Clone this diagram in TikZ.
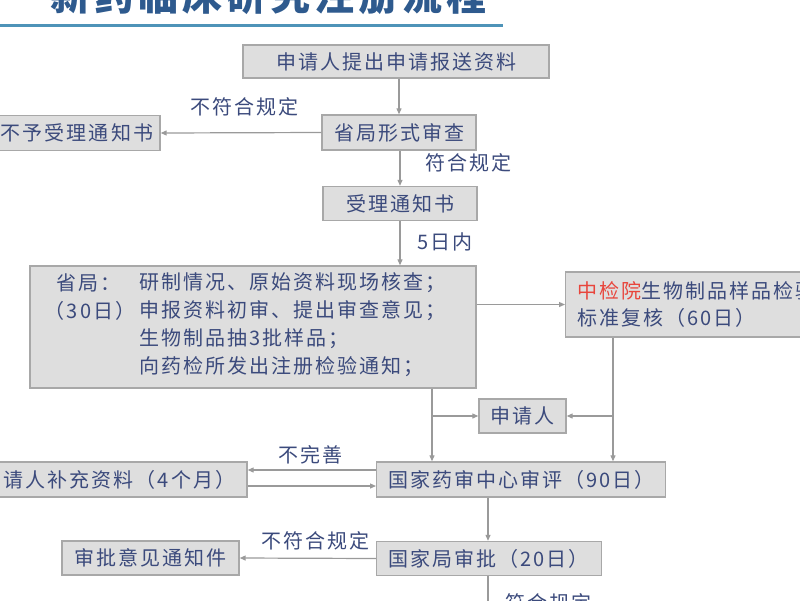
\documentclass[tikz,border=0pt]{standalone}
\usepackage{fontspec}
\setmainfont{Noto Sans CJK SC}[LetterSpace=10]
\usetikzlibrary{arrows.meta}
\definecolor{boxfill}{HTML}{DEDEDE}
\definecolor{boxline}{HTML}{A8A8A8}
\definecolor{txt}{HTML}{3B4A7C}
\definecolor{arr}{HTML}{9A9A9A}
\definecolor{rulecol}{HTML}{4E93B8}
\definecolor{redtxt}{HTML}{E8453C}
\definecolor{titleblue}{HTML}{2E5A8E}
\tikzset{
  box/.style={draw=boxline, fill=boxfill, line width=1.4pt, text=txt,
    font=\fontsize{20}{24}\selectfont, inner sep=0pt},
  lbl/.style={text=txt, font=\fontsize{20}{24}\selectfont, inner sep=0pt},
  conn/.style={draw=arr, line width=1.2pt, -{Triangle[length=6pt,width=5pt]}},
  plain/.style={draw=arr, line width=1.2pt},
}
\begin{document}
\begin{tikzpicture}[x=1pt,y=-1pt]
\useasboundingbox (0,0) rectangle (800,600);
\fill[white] (0,0) rectangle (800,600);
\begin{scope}
\clip (0,0) rectangle (800,600);
% title (cut by the top edge)
\node[anchor=base west, inner sep=0pt, text=titleblue,
  font=\fontsize{40}{44}\bfseries] (title) at (50,10) {新药临床研究注册流程};
\draw[rulecol, line width=3pt] (0,25) -- (503,25);

% boxes
\node[box, minimum width=306pt, minimum height=33pt] (b1) at (396,61.5) {申请人提出申请报送资料};
\node[box, minimum width=154pt, minimum height=35pt] (b2) at (399,132.5) {省局形式审查};
\node[box, minimum width=166pt, minimum height=35pt] (b3) at (77,133) {不予受理通知书};
\node[box, minimum width=154pt, minimum height=34pt] (b4) at (400,203.5) {受理通知书};
\node[box, minimum width=446pt, minimum height=122pt] (b5) at (253,327) {};
\node[lbl, anchor=center] (t5a) at (88,283) {省局：};
\node[lbl, anchor=center] (t5b) at (90,311) {（30日）};
\node[lbl, anchor=west] (t5c) at (139,283) {研制情况、原始资料现场核查；};
\node[lbl, anchor=west] (t5d) at (139,311) {申报资料初审、提出审查意见；};
\node[lbl, anchor=west] (t5e) at (139,339) {生物制品抽3批样品；};
\node[lbl, anchor=west] (t5f) at (139,367) {向药检所发出注册检验通知；};
\node[box, anchor=west, minimum height=65pt, text width=258pt, align=left,
  inner xsep=12pt] (b6) at (565,304.5)
  {\textcolor{redtxt}{中检院}生物制品样品检验\\[3pt]标准复核（60日）};
\node[box, minimum width=87pt, minimum height=34pt] (b7) at (522.5,416) {申请人};
\node[box, anchor=west, minimum height=35pt, text width=265pt, align=left,
  inner xsep=12pt] (b8) at (376,479.5) {国家药审中心审评（90日）};
\node[box, minimum width=277pt, minimum height=35pt] (b9) at (108.5,479.5) {申请人补充资料（4个月）};
\node[box, anchor=west, minimum height=34pt, text width=201pt, align=left,
  inner xsep=12pt] (b10) at (376,558.5) {国家局审批（20日）};
\node[box, minimum width=177pt, minimum height=34pt] (b11) at (150.5,558) {审批意见通知件};

% helper coordinates
\coordinate (lx) at (432,416);
\coordinate (rx) at (613,416);
\coordinate (up) at (0,470);
\coordinate (dn) at (0,486);
\coordinate (bend) at (488,620);

% connectors
\draw[conn] (b1.south -| b2.north) -- (b2.north);
\draw[conn] (b2.west) -- (b3.east);
\draw[conn] (b2.south -| b4.north) -- (b4.north);
\draw[conn] (b4.south) -- (b4.south |- b5.north);
\draw[conn] (b5.east |- b6.west) -- (b6.west);
\draw[conn] (b5.south -| lx) -- (b8.north -| lx);
\draw[conn] (lx) -- (b7.west);
\draw[conn] (b6.south -| rx) -- (b8.north -| rx);
\draw[conn] (rx) -- (b7.east);
\draw[conn] (b8.west |- up) -- (b9.east |- up);
\draw[conn] (b9.east |- dn) -- (b8.west |- dn);
\draw[conn] (b8.south -| bend) -- (b10.north -| bend);
\draw[conn] (b10.west) -- (b11.east);
\draw[plain] (b10.south -| bend) -- (bend);

% labels
\node[lbl] (l1) at (244,107) {不符合规定};
\node[lbl] (l2) at (468,163) {符合规定};
\node[lbl] (l3) at (445,242) {5日内};
\node[lbl] (l4) at (310,455) {不完善};
\node[lbl] (l5) at (315,541) {不符合规定};
\node[lbl] (l6) at (548,603) {符合规定};
\end{scope}
\end{tikzpicture}
\end{document}
